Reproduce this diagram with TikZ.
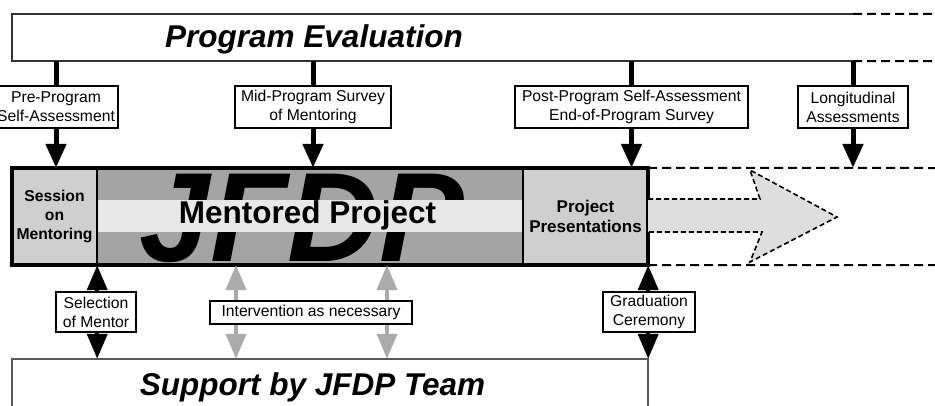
\documentclass[tikz,border=0pt]{standalone}
\usepackage{fontspec}
\setmainfont{Liberation Sans}
\usetikzlibrary{arrows.meta}
\definecolor{midgray}{HTML}{A4A4A4}
\definecolor{lightcell}{HTML}{CFCFCF}
\definecolor{bandcol}{HTML}{E8E8E8}
\definecolor{arrowgray}{HTML}{ABABAB}
\definecolor{dashfill}{HTML}{DEDEDE}
\begin{document}
\begin{tikzpicture}[x=1pt,y=-1pt,
  lbl/.style={draw=black, line width=1.4pt, fill=white, align=center, inner sep=0pt,
    font=\fontsize{15.7}{19}\selectfont},
  stem/.style={line width=5pt},
  down/.style={line width=5pt, -{Triangle[width=20pt,length=24pt]}},
  both/.style={line width=4pt, {Triangle[width=20pt,length=25pt]}-{Triangle[width=20pt,length=25pt]}},
  gboth/.style={both, draw=arrowgray, fill=arrowgray},
  dline/.style={line width=2pt, dash pattern=on 9pt off 5pt},
  frame/.style={line width=2pt, draw=black!80},
  bigtitle/.style={anchor=base, font=\fontsize{31.5}{36}\selectfont\bfseries\itshape},
  boxed/.style={inner sep=0pt},
]
\useasboundingbox (0,0) rectangle (935,405);
\fill[white] (0,0) rectangle (935,405);

% ---- Program Evaluation frame
\node[boxed, minimum width=841pt, minimum height=47pt] (pe) at (432.5,37.5) {};
\draw[frame] (pe.north east) -- (pe.north west) -- (pe.south west) -- (pe.south east);
\coordinate (peTopEnd) at (935,14);
\coordinate (peBotEnd) at (935,61);
\draw[dline] (pe.north east) -- (peTopEnd);
\draw[dline] (pe.south east) -- (peBotEnd);
\node[bigtitle] (pet) at (314,47) {Program Evaluation};

% ---- evaluation labels
\node[lbl, minimum width=124pt, minimum height=42pt] (pre) at (56,107) {Pre-Program\\Self-Assessment};
\node[lbl, minimum width=156pt, minimum height=42pt] (mid) at (313,107) {Mid-Program Survey\\of Mentoring};
\node[lbl, minimum width=233pt, minimum height=42pt] (post) at (631.5,107) {Post-Program Self-Assessment\\End-of-Program Survey};
\node[lbl, minimum width=110pt, minimum height=42pt] (long) at (853,107) {Longitudinal\\Assessments};

% ---- main bar
\node[boxed, minimum width=636pt, minimum height=97pt] (bar) at (330,216.5) {};
\node[boxed, fill=lightcell, minimum width=85pt, minimum height=97pt, align=center,
  font=\fontsize{15.7}{19}\selectfont\bfseries] (sess) at (54.5,216.5) {Session\\on\\Mentoring};
\node[boxed, fill=midgray, minimum width=426pt, minimum height=97pt] (mc) at (310,216.5) {};
\node[boxed, fill=lightcell, minimum width=125pt, minimum height=97pt, align=center,
  font=\fontsize{17}{20}\selectfont\bfseries] (pres) at (585.5,216.5) {Project\\Presentations};
\begin{scope}
  \clip (mc.north west) rectangle (mc.south east);
  \node[anchor=base, font=\fontsize{127}{127}\selectfont\bfseries\itshape] (jfdp) at (302,261) {JFDP};
\end{scope}
\node[boxed, fill=bandcol, minimum width=426pt, minimum height=32pt] (band) at (310,216) {};
\node[anchor=base, font=\fontsize{31.5}{36}\selectfont\bfseries] (mp) at (307.5,223) {Mentored Project};
\draw[line width=2pt] (mc.north west) -- (mc.south west);
\draw[line width=2pt] (mc.north east) -- (mc.south east);
\draw[line width=3.5pt] (bar.north west) rectangle (bar.south east);

% ---- dashed continuation
\coordinate (barTopEnd) at (935,168);
\coordinate (barBotEnd) at (935,265);
\draw[dline] (bar.north east) -- (barTopEnd);
\draw[dline] (bar.south east) -- (barBotEnd);
\fill[dashfill] (648,199) -- (760,199) -- (750,170) -- (837,217) -- (750,262) -- (762,232) -- (648,232) -- cycle;
\draw[line width=1.6pt, dash pattern=on 5pt off 3pt] (648,199) -- (760,199) -- (750,170) -- (837,217) -- (750,262) -- (762,232) -- (648,232);

% ---- top connectors
\foreach \n in {pre,mid,post,long}{
  \draw[stem] (\n |- pe.south) -- (\n.north);
  \draw[down] (\n.south) -- (\n |- bar.north);
}

% ---- support box
\node[boxed, minimum width=636pt, minimum height=60pt] (sup) at (330,389) {};
\draw[frame, draw=black!65] (sup.south west) -- (sup.north west) -- (sup.north east) -- (sup.south east);
\node[bigtitle] (supt) at (312.5,395) {Support by JFDP Team};

% ---- bottom connectors
\coordinate (g1) at (236,265);
\coordinate (g2) at (387,265);
\draw[both] (sess.south east) -- (sess.south east |- sup.north);
\draw[gboth] (g1) -- (g1 |- sup.north);
\draw[gboth] (g2) -- (g2 |- sup.north);
\draw[both] (bar.south east) -- (bar.south east |- sup.north);

\node[lbl, minimum width=80pt, minimum height=40pt] (sel) at (96,312) {Selection\\of Mentor};
\node[lbl, minimum width=202pt, minimum height=23pt] (int) at (311,312.5) {Intervention as necessary};
\node[lbl, minimum width=92pt, minimum height=40pt] (grad) at (649,312) {Graduation\\Ceremony};
\end{tikzpicture}
\end{document}
